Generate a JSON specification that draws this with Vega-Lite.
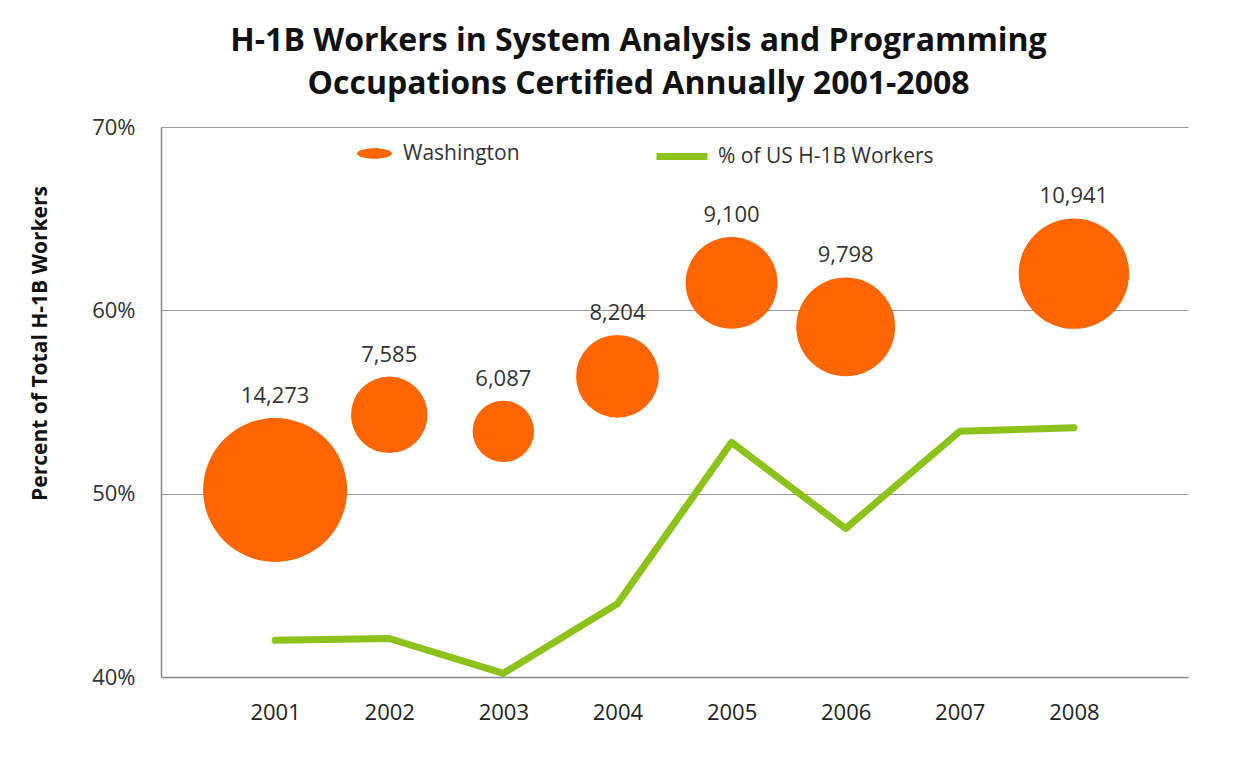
{
  "$schema": "https://vega.github.io/schema/vega-lite/v6.json",
  "width": 1027,
  "height": 550,
  "autosize": {"type": "none"},
  "padding": {"left": 161, "top": 127, "right": 50, "bottom": 80},
  "background": "white",
  "title": {
    "text": ["H-1B Workers in System Analysis and Programming", "Occupations Certified Annually 2001-2008"],
    "font": "Open Sans",
    "fontSize": 32,
    "fontWeight": "bold",
    "color": "#111111",
    "lineHeight": 43,
    "anchor": "middle",
    "frame": "group",
    "dx": -36,
    "offset": 15
  },
  "data": {
    "values": [
      {"year": 2001, "washington": 14273, "wa_pct": 50.2, "us_pct": 42.0},
      {"year": 2002, "washington": 7585, "wa_pct": 54.3, "us_pct": 42.1},
      {"year": 2003, "washington": 6087, "wa_pct": 53.4, "us_pct": 40.2},
      {"year": 2004, "washington": 8204, "wa_pct": 56.4, "us_pct": 44.0},
      {"year": 2005, "washington": 9100, "wa_pct": 61.5, "us_pct": 52.8},
      {"year": 2006, "washington": 9798, "wa_pct": 59.1, "us_pct": 48.1},
      {"year": 2007, "washington": null, "wa_pct": null, "us_pct": 53.4},
      {"year": 2008, "washington": 10941, "wa_pct": 62.0, "us_pct": 53.6}
    ]
  },
  "encoding": {
    "x": {
      "field": "year",
      "type": "quantitative",
      "scale": {"domain": [2000, 2009], "nice": false, "zero": false},
      "axis": {
        "values": [2001, 2002, 2003, 2004, 2005, 2006, 2007, 2008],
        "format": "d",
        "labelFont": "Open Sans",
        "labelFontSize": 22,
        "labelColor": "#222222",
        "labelPadding": 25,
        "ticks": false,
        "grid": false,
        "domainColor": "#888888",
        "domainWidth": 1.5,
        "title": null
      }
    }
  },
  "layer": [
    {
      "mark": {"type": "point", "filled": true, "opacity": 1, "strokeWidth": 0},
      "encoding": {
        "y": {
          "field": "wa_pct",
          "type": "quantitative",
          "scale": {"domain": [40, 70], "nice": false, "zero": false},
          "axis": {
            "values": [40, 50, 60, 70],
            "labelExpr": "datum.value + '%'",
            "labelFont": "Open Sans",
            "labelFontSize": 22,
            "labelColor": "#333333",
            "labelPadding": 26,
            "ticks": false,
            "grid": true,
            "gridColor": "#999999",
            "gridWidth": 1.2,
            "domainColor": "#888888",
            "domainWidth": 1.5,
            "title": "Percent of Total H-1B Workers",
            "titleFont": "Open Sans",
            "titleFontSize": 21,
            "titleFontWeight": "bold",
            "titleColor": "#111111",
            "titleX": -121,
            "titleY": 216,
            "titleAlign": "center",
            "titleBaseline": "middle"
          }
        },
        "size": {
          "field": "washington",
          "type": "quantitative",
          "scale": {"type": "pow", "exponent": 2, "domain": [0, 14273], "range": [0, 20736]},
          "legend": null
        },
        "color": {
          "datum": "Washington",
          "type": "nominal",
          "scale": {"domain": ["Washington"], "range": ["#FF6600"]},
          "legend": {
            "orient": "none",
            "legendX": 196,
            "legendY": 9,
            "title": null,
            "padding": 0,
            "symbolType": "M-1,0A1,0.3 0 1,1 1,0A1,0.3 0 1,1 -1,0Z",
            "symbolSize": 1225,
            "symbolStrokeWidth": 0,
            "labelFont": "Open Sans",
            "labelFontSize": 21,
            "labelColor": "#333333",
            "labelOffset": 11,
            "labelLimit": 0
          }
        }
      }
    },
    {
      "mark": {"type": "line", "strokeWidth": 7, "strokeCap": "round", "strokeJoin": "round"},
      "encoding": {
        "y": {"field": "us_pct", "type": "quantitative"},
        "stroke": {
          "datum": "% of US H-1B Workers",
          "type": "nominal",
          "scale": {"domain": ["% of US H-1B Workers"], "range": ["#8CC21A"]},
          "legend": {
            "orient": "none",
            "legendX": 492,
            "legendY": 0.5,
            "title": null,
            "padding": 0,
            "symbolType": "M-1,0L1,0",
            "symbolSize": 2601,
            "symbolStrokeWidth": 7,
            "labelFont": "Open Sans",
            "labelFontSize": 21,
            "labelColor": "#333333",
            "labelOffset": 7,
            "labelLimit": 0
          }
        }
      }
    },
    {
      "mark": {
        "type": "text",
        "font": "Open Sans",
        "fontSize": 22,
        "color": "#333333",
        "baseline": "alphabetic",
        "dy": {"expr": "-(datum.washington / 14273 * 72 + 15)"}
      },
      "encoding": {
        "y": {"field": "wa_pct", "type": "quantitative"},
        "text": {"field": "washington", "type": "quantitative", "format": ","}
      }
    }
  ],
  "config": {"view": {"stroke": null}}
}
